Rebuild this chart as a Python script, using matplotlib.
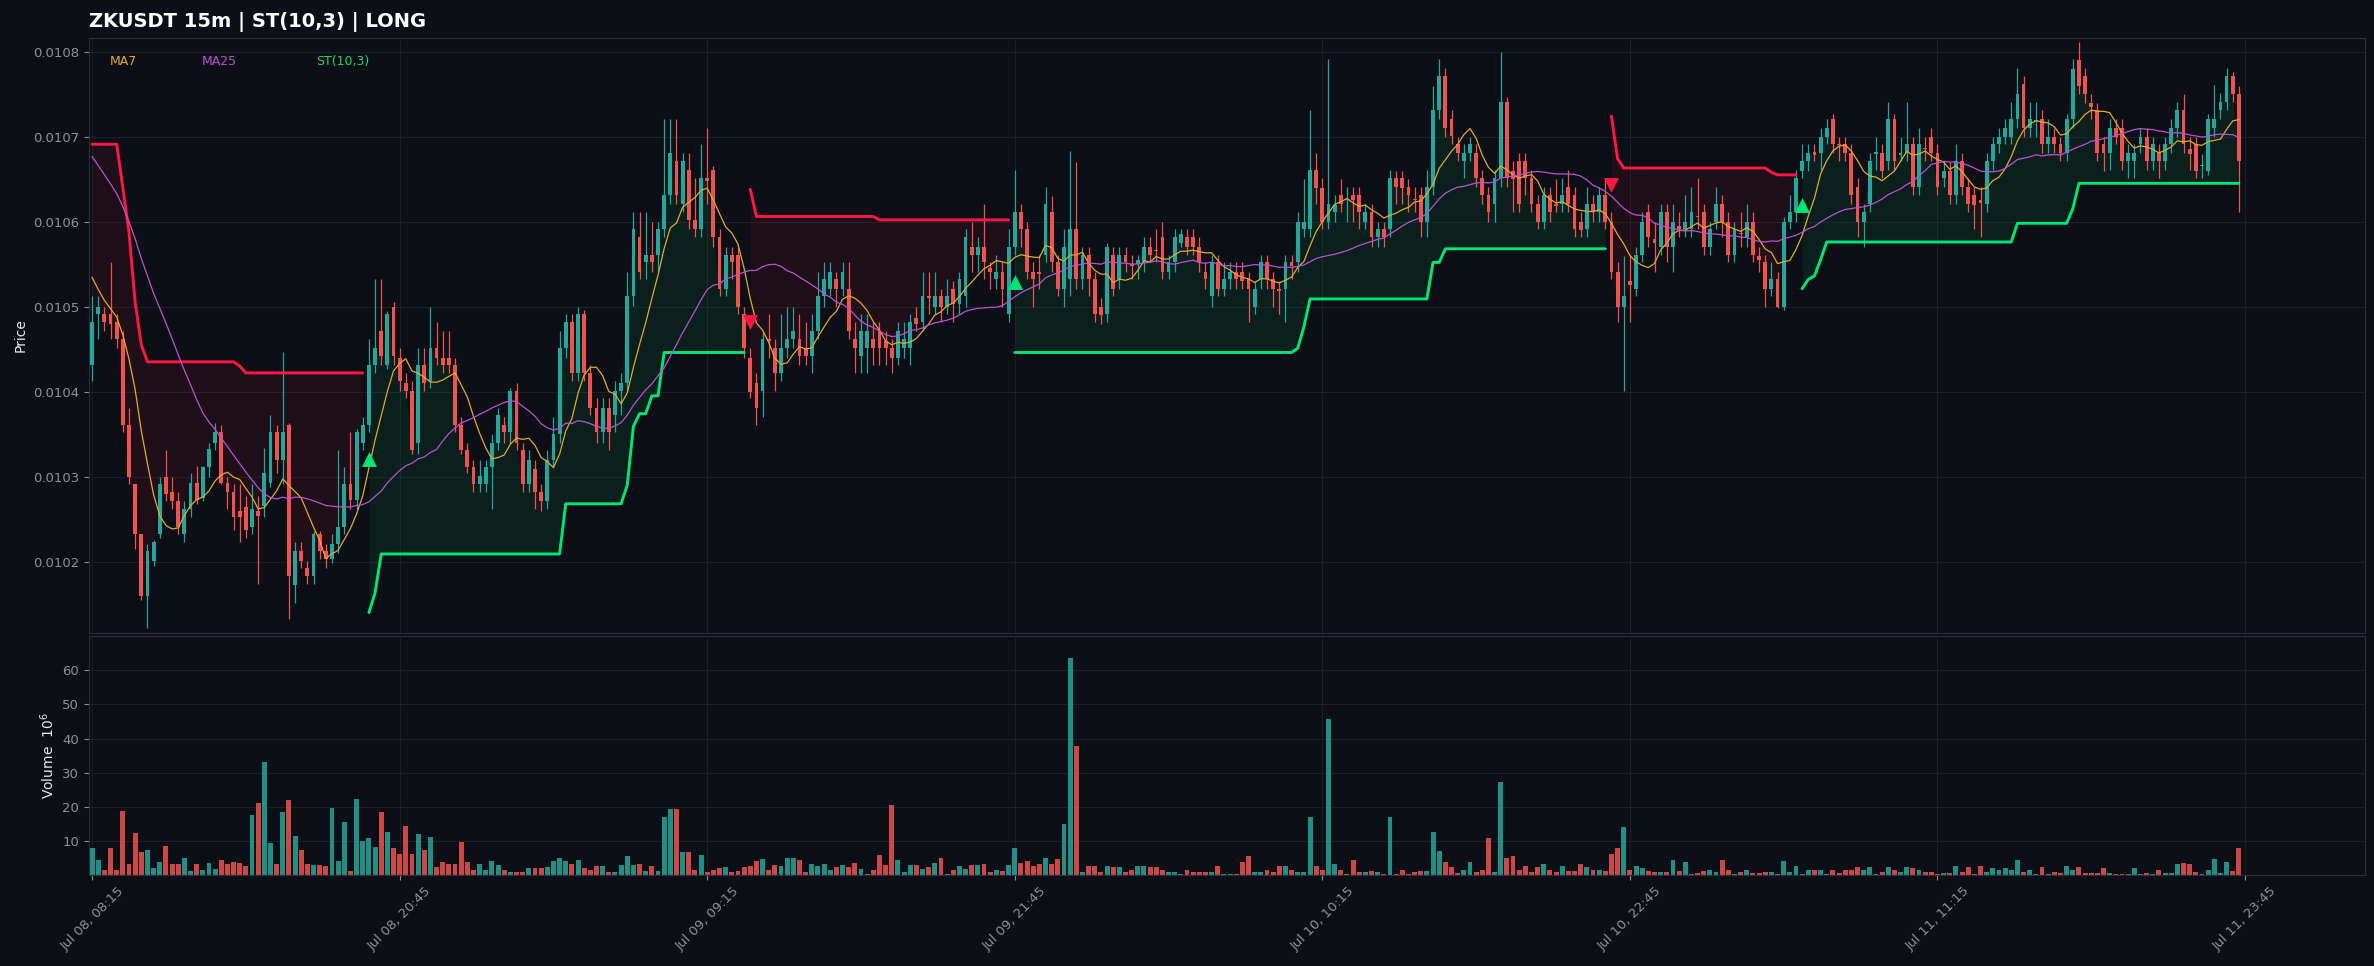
import numpy as np
import pandas as pd
import matplotlib
matplotlib.use("Agg")
import matplotlib.pyplot as plt
from matplotlib.ticker import FormatStrFormatter

# ---------------- data (prices in units of 1e-6) ----------------
title_text = "ZKUSDT 15m | ST(10,3) | LONG"
start_time = "2025-07-08 08:15"

open_ = [
10431,10491,10491,10491,10482,10462,10361,10291,10232,10160,
10201,10232,10300,10282,10271,10232,10262,10293,10275,10311,
10340,10352,10293,10282,10259,10264,10241,10260,10266,10293,
10352,10320,10361,10172,10212,10192,10183,10232,10212,10203,
10221,10241,10291,10273,10340,10361,10431,10471,10431,10500,
10440,10410,10401,10340,10431,10413,10451,10440,10440,10431,
10361,10331,10311,10291,10291,10311,10340,10361,10352,10401,
10331,10291,10309,10282,10271,10320,10350,10451,10482,10422,
10491,10422,10381,10352,10381,10372,10401,10410,10512,10582,
10552,10561,10561,10591,10631,10671,10621,10661,10602,10591,
10651,10661,10582,10521,10561,10561,10491,10440,10410,10401,
10462,10451,10422,10451,10462,10462,10451,10442,10471,10512,
10521,10532,10521,10521,10462,10442,10451,10462,10471,10460,
10451,10440,10451,10451,10486,10482,10512,10500,10512,10500,
10521,10503,10512,10570,10561,10570,10545,10532,10541,10491,
10570,10611,10591,10541,10541,10561,10611,10552,10521,10532,
10591,10532,10561,10532,10500,10491,10561,10532,10561,10550,
10550,10552,10570,10567,10582,10541,10552,10575,10582,10582,
10570,10541,10512,10552,10521,10532,10541,10541,10532,10500,
10532,10552,10532,10521,10521,10552,10552,10591,10591,10661,
10640,10600,10611,10631,10625,10631,10631,10600,10611,10582,
10591,10591,10651,10651,10641,10627,10631,10600,10641,10731,
10771,10721,10691,10671,10681,10681,10651,10631,10621,10651,
10741,10660,10671,10671,10651,10621,10600,10631,10621,10621,
10641,10631,10600,10591,10621,10611,10631,10600,10541,10500,
10530,10521,10561,10611,10580,10570,10611,10570,10595,10591,
10591,10607,10611,10570,10600,10621,10600,10561,10587,10582,
10600,10560,10552,10521,10532,10500,10600,10611,10660,10671,
10682,10681,10700,10721,10691,10691,10681,10641,10600,10621,
10680,10681,10671,10721,10678,10681,10691,10641,10687,10700,
10681,10651,10660,10631,10671,10641,10631,10625,10621,10671,
10691,10700,10700,10721,10762,10710,10718,10721,10691,10700,
10691,10681,10721,10790,10771,10740,10731,10691,10681,10710,
10710,10671,10671,10691,10700,10671,10681,10671,10691,10710,
10731,10685,10691,10665,10660,10710,10731,10741,10771,10750]

high = [
10512,10512,10500,10552,10491,10471,10381,10291,10232,10221,
10225,10300,10331,10300,10282,10271,10304,10313,10313,10340,
10363,10361,10300,10291,10291,10277,10291,10277,10334,10372,
10361,10446,10363,10223,10223,10201,10236,10236,10221,10232,
10331,10311,10352,10356,10370,10462,10532,10532,10495,10505,
10451,10422,10413,10451,10451,10500,10482,10471,10471,10440,
10370,10340,10320,10320,10320,10350,10381,10370,10404,10410,
10340,10331,10320,10291,10331,10370,10471,10491,10491,10500,
10496,10431,10392,10392,10392,10413,10422,10541,10611,10611,
10611,10600,10600,10721,10721,10721,10681,10681,10651,10691,
10710,10665,10591,10570,10570,10570,10500,10451,10422,10471,
10491,10462,10491,10500,10500,10491,10482,10491,10541,10552,
10552,10541,10552,10552,10482,10491,10491,10482,10482,10471,
10462,10482,10482,10491,10500,10541,10541,10541,10521,10532,
10530,10541,10591,10600,10582,10621,10552,10561,10552,10591,
10661,10621,10600,10552,10561,10641,10630,10561,10591,10683,
10670,10570,10570,10541,10510,10575,10570,10570,10570,10561,
10561,10582,10582,10591,10600,10561,10591,10591,10591,10591,
10582,10552,10561,10561,10552,10552,10552,10552,10541,10530,
10561,10561,10541,10530,10561,10561,10611,10650,10731,10681,
10651,10791,10631,10650,10641,10641,10641,10621,10621,10600,
10600,10661,10660,10660,10650,10641,10641,10661,10760,10791,
10781,10731,10700,10691,10700,10691,10661,10641,10661,10800,
10746,10671,10681,10681,10661,10631,10641,10641,10650,10651,
10661,10641,10611,10641,10631,10641,10651,10611,10552,10560,
10561,10570,10611,10621,10600,10621,10621,10621,10611,10631,
10641,10651,10621,10600,10641,10631,10611,10600,10611,10621,
10611,10570,10561,10552,10541,10605,10631,10661,10691,10691,
10691,10710,10721,10726,10700,10700,10691,10651,10621,10681,
10700,10691,10741,10726,10700,10741,10700,10710,10700,10710,
10691,10671,10670,10691,10681,10651,10641,10641,10681,10700,
10710,10721,10741,10781,10771,10741,10741,10731,10721,10710,
10700,10726,10791,10811,10781,10750,10740,10700,10721,10721,
10721,10691,10691,10710,10710,10700,10691,10700,10721,10741,
10750,10700,10700,10680,10726,10761,10751,10781,10776,10760]

low = [
10413,10462,10471,10462,10451,10352,10291,10215,10155,10122,
10195,10228,10271,10262,10232,10223,10253,10268,10271,10300,
10331,10291,10262,10237,10223,10228,10232,10174,10253,10288,
10304,10291,10133,10151,10192,10174,10174,10203,10192,10198,
10210,10232,10262,10262,10331,10352,10422,10431,10426,10431,
10401,10392,10327,10327,10401,10404,10431,10422,10422,10352,
10327,10304,10282,10282,10282,10262,10331,10340,10340,10331,
10282,10282,10262,10259,10262,10311,10340,10440,10413,10413,
10413,10372,10340,10340,10331,10352,10372,10401,10501,10532,
10532,10541,10541,10582,10621,10621,10611,10591,10582,10582,
10621,10570,10512,10512,10532,10491,10440,10392,10361,10370,
10440,10401,10413,10440,10451,10431,10431,10422,10462,10500,
10512,10500,10512,10462,10422,10422,10422,10431,10431,10431,
10422,10431,10440,10431,10471,10471,10491,10491,10482,10491,
10482,10491,10500,10541,10541,10532,10521,10521,10500,10482,
10561,10570,10532,10500,10521,10552,10541,10512,10500,10512,
10521,10521,10512,10482,10480,10482,10512,10521,10541,10532,
10532,10541,10552,10552,10532,10532,10541,10570,10561,10561,
10541,10521,10500,10512,10512,10521,10521,10521,10482,10491,
10521,10521,10500,10491,10482,10532,10541,10582,10582,10621,
10591,10591,10600,10611,10600,10600,10591,10591,10570,10570,
10570,10582,10621,10621,10611,10611,10582,10582,10631,10721,
10700,10691,10671,10651,10671,10641,10621,10600,10600,10641,
10641,10611,10611,10631,10611,10591,10591,10600,10611,10611,
10611,10582,10582,10582,10600,10600,10591,10532,10482,10401,
10482,10512,10552,10570,10541,10561,10552,10541,10582,10582,
10582,10591,10561,10561,10591,10582,10552,10552,10570,10570,
10552,10541,10500,10512,10498,10496,10591,10600,10651,10660,
10671,10661,10691,10681,10671,10671,10621,10582,10570,10611,
10661,10651,10661,10661,10671,10671,10631,10631,10671,10671,
10631,10641,10621,10621,10631,10611,10591,10582,10611,10661,
10681,10691,10691,10710,10700,10700,10700,10681,10681,10681,
10671,10671,10710,10750,10740,10721,10671,10660,10661,10691,
10661,10651,10651,10681,10661,10661,10651,10661,10681,10700,
10681,10661,10651,10651,10655,10700,10721,10731,10741,10611]

close = [
10482,10500,10482,10480,10462,10361,10300,10232,10160,10212,
10223,10291,10280,10271,10241,10262,10293,10273,10311,10332,
10352,10293,10282,10253,10253,10237,10262,10254,10304,10352,
10320,10352,10183,10212,10201,10183,10232,10212,10203,10221,
10241,10291,10273,10352,10361,10431,10451,10442,10491,10442,
10413,10401,10331,10431,10410,10451,10440,10431,10431,10361,
10331,10311,10291,10301,10311,10340,10372,10352,10401,10340,
10291,10320,10282,10271,10320,10350,10451,10482,10422,10491,
10422,10381,10352,10381,10352,10401,10410,10512,10591,10541,
10561,10552,10591,10631,10681,10631,10671,10602,10591,10651,
10648,10582,10521,10561,10552,10500,10451,10399,10381,10462,
10460,10422,10451,10462,10471,10442,10442,10471,10512,10532,
10541,10521,10541,10471,10451,10471,10471,10451,10451,10451,
10440,10471,10462,10482,10480,10512,10510,10512,10500,10512,
10503,10532,10582,10561,10570,10552,10541,10541,10521,10570,
10611,10591,10541,10532,10538,10621,10552,10521,10570,10591,
10532,10561,10532,10491,10490,10570,10521,10561,10552,10548,
10555,10570,10561,10565,10541,10552,10582,10585,10570,10570,
10552,10532,10552,10521,10532,10541,10532,10530,10521,10521,
10552,10532,10521,10518,10552,10548,10600,10600,10661,10640,
10600,10621,10620,10621,10627,10625,10611,10611,10582,10591,
10582,10651,10641,10640,10631,10625,10600,10641,10731,10771,
10710,10701,10681,10681,10691,10651,10631,10611,10651,10741,
10651,10650,10621,10651,10621,10600,10631,10611,10618,10631,
10621,10591,10590,10621,10611,10631,10600,10541,10500,10512,
10525,10561,10600,10582,10575,10611,10570,10600,10591,10600,
10611,10605,10570,10591,10621,10600,10561,10591,10585,10600,
10561,10555,10521,10532,10500,10600,10611,10651,10671,10681,
10678,10700,10710,10691,10690,10681,10631,10600,10611,10671,
10682,10660,10721,10671,10681,10691,10641,10691,10685,10681,
10641,10660,10631,10671,10641,10621,10620,10622,10671,10691,
10700,10710,10721,10750,10710,10721,10718,10691,10700,10691,
10681,10721,10780,10760,10750,10735,10681,10681,10710,10700,
10671,10681,10681,10700,10671,10691,10671,10691,10710,10731,
10691,10680,10660,10665,10721,10721,10741,10771,10750,10671]

# volume in millions
volume_m = [
7.8,4.5,1.4,7.8,1.4,18.7,3.1,12.3,6.7,7.3,
2.0,3.7,8.4,3.1,3.3,4.9,1.2,3.1,1.4,3.5,
1.8,4.3,3.3,3.7,3.5,2.5,17.6,21.1,33.2,9.4,
3.3,18.5,22.0,11.4,7.3,3.1,2.9,2.9,2.5,19.7,
4.1,15.6,1.2,22.3,10.0,10.8,8.2,18.5,12.6,7.8,
6.1,14.3,6.1,12.0,7.3,11.2,2.2,3.7,3.3,3.3,
9.6,3.7,1.6,3.1,1.6,4.1,2.9,1.4,0.8,1.0,
0.8,2.0,2.0,2.0,2.2,4.1,4.9,4.1,3.3,4.3,
2.0,1.4,2.5,2.5,0.8,0.8,2.9,5.5,2.9,3.3,
1.2,2.5,1.2,17.0,19.3,19.3,6.7,6.7,1.6,5.9,
1.0,1.6,2.0,2.2,0.8,1.2,2.2,2.5,4.1,4.7,
1.6,2.9,2.5,4.9,4.9,4.5,0.8,3.1,2.5,3.1,
1.6,2.4,2.9,2.4,3.5,1.8,0.4,1.4,5.9,2.9,
20.6,4.3,0.8,2.9,2.9,1.8,2.4,3.5,5.1,0.2,
1.4,2.5,1.8,2.9,2.9,3.1,1.0,1.6,1.2,2.9,
7.8,3.5,4.1,2.5,3.1,4.9,3.1,4.7,15.0,63.7,
37.8,0.8,2.5,2.7,1.0,2.7,2.2,2.2,1.0,1.6,
2.7,2.7,2.2,2.2,1.6,0.8,0.8,0.2,1.4,0.8,
1.0,0.8,0.8,2.5,0.4,0.4,0.3,3.7,5.7,1.0,
0.8,1.6,0.8,2.7,2.7,1.6,1.0,0.8,17.0,2.7,
1.4,45.8,3.3,1.6,0.4,4.5,1.0,1.0,1.2,1.0,
0.4,17.0,0.2,1.4,0.2,1.0,1.2,1.2,12.5,6.9,
3.9,2.2,0.6,1.6,3.7,1.0,1.4,10.8,1.0,27.3,
4.9,5.7,1.6,2.5,1.0,2.4,3.1,1.6,0.8,2.7,
1.2,1.2,3.3,2.2,1.6,1.6,1.2,6.1,7.8,14.0,
1.6,2.7,2.0,1.2,1.0,1.0,0.8,4.5,1.2,3.7,
0.4,0.6,1.2,1.4,0.8,4.3,1.6,0.2,1.0,1.6,
0.6,0.6,1.0,1.0,0.4,4.1,1.0,2.5,0.2,1.4,
1.4,1.6,0.4,1.4,0.6,1.4,1.4,2.2,1.6,2.2,
0.4,1.0,2.2,1.4,1.0,2.2,2.0,1.6,1.0,1.0,
0.2,0.6,0.6,2.7,1.0,2.2,0.2,2.5,1.0,2.0,
1.4,2.0,1.4,4.3,1.0,1.4,0.2,2.2,0.2,1.0,
0.6,2.7,1.6,2.2,0.6,0.6,0.6,2.0,0.6,0.4,
0.4,0.4,2.0,0.2,0.6,0.2,1.6,0.6,0.6,3.1,
3.5,3.1,1.0,0.2,1.4,4.7,0.6,3.7,1.2,8.0]

# estimated closes just before the visible window (needed for the moving averages)
warmup_close = [10760,10755,10750,10745,10745,10740,10738,10735,10730,10730,
                10728,10725,10722,10720,10718,10715,10712,10702,
                10600,10570,10550,10530,10510,10498]

# SuperTrend(10,3) line, run-length: (direction, [(value, count), ...])
st_segments = [
    ("dn", [(10691, 5), (10640, 1), (10587, 1), (10505, 1), (10455, 1), (10435, 15), (10430, 1), (10422, 20)]),
    ("up", [(10140, 1), (10163, 1), (10209, 30), (10268, 10), (10290, 1), (10359, 1), (10374, 2), (10395, 2), (10446, 14)]),
    ("dn", [(10638, 1), (10606, 20), (10602, 22)]),
    ("up", [(10446, 46), (10451, 1), (10476, 1), (10509, 20), (10552, 2), (10568, 27)]),
    ("dn", [(10724, 1), (10674, 1), (10663, 24), (10658, 1), (10655, 4)]),
    ("up", [(10521, 1), (10532, 1), (10536, 1), (10555, 1), (10576, 31), (10598, 9), (10615, 1), (10645, 27)]),
]
buy_idx = [45, 150, 278]
sell_idx = [107, 247]
legend_labels = ["MA7", "MA25", "ST(10,3)"]

# ---------------- preparation ----------------
n = min(len(open_), len(high), len(low), len(close), len(volume_m))
x = np.arange(n)
o = np.array(open_[:n]) / 1e6
c = np.array(close[:n]) / 1e6
h = np.maximum(np.array(high[:n]) / 1e6, np.maximum(o, c))
l = np.minimum(np.array(low[:n]) / 1e6, np.minimum(o, c))
vol = np.array(volume_m[:n])
times = pd.date_range(start_time, periods=n + 1, freq="15min")

all_close = pd.Series(np.r_[np.array(warmup_close) / 1e6, c])
k = len(warmup_close)
ma7 = all_close.rolling(7).mean().values[k:]
ma25 = all_close.rolling(25).mean().values[k:]

st_val = np.full(n, np.nan)
segs = []
pos = 0
for d, runs in st_segments:
    s = pos
    for v, cnt in runs:
        st_val[pos:pos + cnt] = v / 1e6
        pos += cnt
    segs.append((d, s, min(pos, n)))

# ---------------- style ----------------
BG = "#0c0f15"
UP = "#26a69a"
DN = "#ef5350"
ST_UP = "#00e676"
ST_DN = "#ff1744"
MA7_C = "#e3a92b"
MA25_C = "#bd4fd6"
TICK_C = "#8d929a"
GRID_C = "#1b202a"
SPINE_C = "#2a2f3a"

fig = plt.figure(figsize=(23.74, 9.66), dpi=100, facecolor=BG)
ax = fig.add_axes([0.0375, 0.3447, 0.9587, 0.6160], facecolor=BG)
axv = fig.add_axes([0.0375, 0.0942, 0.9587, 0.2474], facecolor=BG, sharex=ax)

cols = np.where(c >= o, UP, DN)

# SuperTrend fills and lines
for d, s, e in segs:
    xs = x[s:e]
    col = ST_UP if d == "up" else ST_DN
    ax.fill_between(xs, st_val[s:e], c[s:e], color=col, alpha=0.075, linewidth=0, zorder=1)
    ax.plot(xs, st_val[s:e], color=col, lw=2.1, zorder=5, solid_capstyle="round")

# candles
ax.vlines(x, l, h, colors=cols, linewidth=0.9, zorder=3)
body_bot = np.minimum(o, c)
body_h = np.maximum(np.abs(c - o), 0.0000018)
ax.bar(x, body_h, bottom=body_bot, width=0.62, color=cols, linewidth=0, zorder=4)

# moving averages
ax.plot(x, ma7, color=MA7_C, lw=0.9, zorder=6)
ax.plot(x, ma25, color=MA25_C, lw=0.9, zorder=6)

# signals
bi = np.array(buy_idx)
si = np.array(sell_idx)
ax.scatter(bi, l[bi] * 0.997, marker="^", s=115, color=ST_UP, linewidths=0, zorder=8)
ax.scatter(si, h[si] * 1.003, marker="v", s=115, color=ST_DN, linewidths=0, zorder=8)

# legend-like labels
for txt, xf, col in zip(legend_labels, [0.0092, 0.0496, 0.0997], [MA7_C, MA25_C, "#1fd06f"]):
    ax.text(xf, 0.961, txt, transform=ax.transAxes, color=col, fontsize=9, va="center", ha="left")

# volume
axv.bar(x, vol, width=0.8, color=cols, alpha=0.85, linewidth=0)

# axes formatting
for a in (ax, axv):
    a.tick_params(colors=TICK_C, labelsize=9.5, length=3.5, width=0.8)
    for sp in a.spines.values():
        sp.set_color(SPINE_C)
        sp.set_linewidth(0.8)
    a.grid(True, color=GRID_C, linewidth=0.7, linestyle="-")
    a.set_axisbelow(True)

ax.set_xlim(-0.5, n + 19.5)
ax.set_ylim(0.010116, 0.010816)
ax.set_yticks([0.0102, 0.0103, 0.0104, 0.0105, 0.0106, 0.0107, 0.0108])
ax.yaxis.set_major_formatter(FormatStrFormatter("%.4f"))
ax.tick_params(axis="x", labelbottom=False, length=0)

axv.set_ylim(0, vol.max() * 1.1)
axv.set_yticks([10, 20, 30, 40, 50, 60])
tick_pos = list(range(0, n + 1, 50))
axv.set_xticks(tick_pos)
axv.set_xticklabels([times[i].strftime("%b %d, %H:%M") for i in tick_pos], rotation=45)

ax.set_ylabel("Price", color="#e8e8e8", fontsize=10)
axv.set_ylabel("Volume  $10^6$", color="#e8e8e8", fontsize=10)
ax.set_title(title_text, loc="left", color="white", fontsize=14, fontweight="bold", pad=8)

fig.savefig("out.png", dpi=100, facecolor=BG)
